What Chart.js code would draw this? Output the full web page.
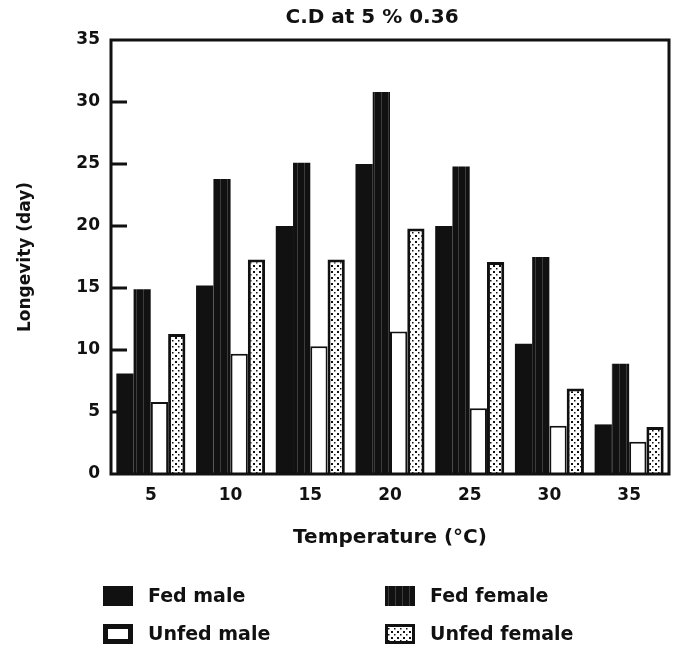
<!DOCTYPE html>
<html>
<head>
<meta charset="utf-8">
<script src="https://cdn.jsdelivr.net/npm/chart.js@4.4.1/dist/chart.umd.min.js"></script>
<style>
  body { margin: 0; background: #fff; }
  canvas { display: block; }
</style>
</head>
<body>
<canvas id="mycanvas" width="679" height="650"></canvas>
<script>
var temps = ['5', '10', '15', '20', '25', '30', '35'];
var fedMale = [8.1, 15.2, 20.0, 25.0, 20.0, 10.5, 4.0];
var fedFemale = [14.9, 23.8, 25.1, 30.8, 24.8, 17.5, 8.9];
var unfedMale = [5.8, 9.7, 10.3, 11.5, 5.3, 3.9, 2.6];
var unfedFemale = [11.3, 17.3, 17.3, 19.8, 17.1, 6.9, 3.8];
var seriesNames = ['Fed male', 'Fed female', 'Unfed male', 'Unfed female'];
var yTicks = [0, 5, 10, 15, 20, 25, 30, 35];
var chartTitle = 'C.D at 5 % 0.36';
var xTitle = 'Temperature (\u00b0C)';
var yTitle = 'Longevity (day)';

var ink = '#111';
var fontFamily = '"DejaVu Sans", sans-serif';

// faint striped fill for fed female
function stripes() {
	var c = document.createElement('canvas');
	c.width = 7; c.height = 7;
	var g = c.getContext('2d');
	g.fillStyle = ink;
	g.fillRect(0, 0, 7, 7);
	g.fillStyle = '#3c3c3c';
	g.fillRect(3, 0, 1, 7);
	return g.createPattern(c, 'repeat');
}

// stippled fill for unfed female
function dots() {
	var c = document.createElement('canvas');
	c.width = 6; c.height = 6;
	var g = c.getContext('2d');
	g.fillStyle = '#fff';
	g.fillRect(0, 0, 6, 6);
	g.fillStyle = ink;
	g.fillRect(1, 1, 2, 2);
	g.fillRect(4, 4, 1.5, 1.5);
	return g.createPattern(c, 'repeat');
}

var decor = {
	id: 'decor',
	afterDraw: function(chart) {
		var ctx = chart.ctx;
		var a = chart.chartArea;
		var y = chart.scales.y;
		ctx.save();
		ctx.strokeStyle = ink;
		ctx.lineWidth = 3;
		ctx.strokeRect(a.left, a.top, a.right - a.left, a.bottom - a.top);

		// tick marks point into the plot
		ctx.beginPath();
		yTicks.forEach(function(v) {
			if (v > 0 && v < 35) {
				var py = y.getPixelForValue(v);
				ctx.moveTo(a.left, py);
				ctx.lineTo(a.left + 16, py);
			}
		});
		ctx.stroke();

		ctx.fillStyle = ink;
		ctx.textBaseline = 'middle';
		ctx.textAlign = 'center';
		ctx.font = 'bold 20px ' + fontFamily;
		ctx.fillText(chartTitle, (a.left + a.right) / 2 - 18, 18);

		// legend, two columns
		ctx.textAlign = 'left';
		ctx.font = 'bold 19px ' + fontFamily;
		chart.data.datasets.forEach(function(ds, i) {
			var bx = (i % 2) ? 385 : 103;
			var by = (i < 2) ? 586 : 624;
			ctx.fillStyle = ds.backgroundColor;
			ctx.fillRect(bx, by, 30, 20);
			if (ds.legendBorder) {
				ctx.lineWidth = ds.legendBorder;
				ctx.strokeRect(bx + ds.legendBorder / 2, by + ds.legendBorder / 2, 30 - ds.legendBorder, 20 - ds.legendBorder);
			}
			ctx.fillStyle = ink;
			ctx.fillText(ds.label, bx + 45, by + 11);
		});
		ctx.restore();
	}
};

var chartdata = {
	labels: temps,
	datasets: [
		{ label: seriesNames[0], data: fedMale, backgroundColor: ink, borderWidth: 0 },
		{ label: seriesNames[1], data: fedFemale, backgroundColor: stripes(), borderColor: ink, borderWidth: 0 },
		{ label: seriesNames[2], data: unfedMale, backgroundColor: '#fff', borderColor: ink, borderWidth: 2, legendBorder: 5 },
		{ label: seriesNames[3], data: unfedFemale, backgroundColor: dots(), borderColor: ink, borderWidth: 3, legendBorder: 3 }
	]
};

var ctx = document.getElementById('mycanvas');

var barGraph = new Chart(ctx, {
	type: 'bar',
	data: chartdata,
	plugins: [decor],
	options: {
		responsive: false,
		animation: false,
		layout: { padding: { top: 40, right: 10, left: 15, bottom: 100 } },
		datasets: { bar: { categoryPercentage: 0.866, barPercentage: 1 } },
		plugins: {
			legend: { display: false },
			tooltip: { enabled: false },
			title: { display: false }
		},
		scales: {
			x: {
				grid: { display: false, drawTicks: false },
				border: { display: false },
				ticks: { color: ink, padding: 11, font: { family: fontFamily, size: 17, weight: 'bold' } },
				title: { display: true, text: xTitle, color: ink, padding: { top: 0, bottom: 0 }, font: { family: fontFamily, size: 20, weight: 'bold' } },
				afterFit: function(scale) { scale.height = 76; }
			},
			y: {
				min: 0,
				max: 35,
				grid: { display: false, drawTicks: false },
				border: { display: false },
				afterBuildTicks: function(scale) {
					scale.ticks = yTicks.map(function(v) { return { value: v }; });
				},
				ticks: { color: ink, padding: 11, font: { family: fontFamily, size: 17, weight: 'bold' } },
				title: { display: true, text: yTitle, color: ink, padding: { top: 0, bottom: 0 }, font: { family: fontFamily, size: 17, weight: 'bold' } },
				afterFit: function(scale) { scale.width = 96; }
			}
		}
	}
});
</script>
</body>
</html>
